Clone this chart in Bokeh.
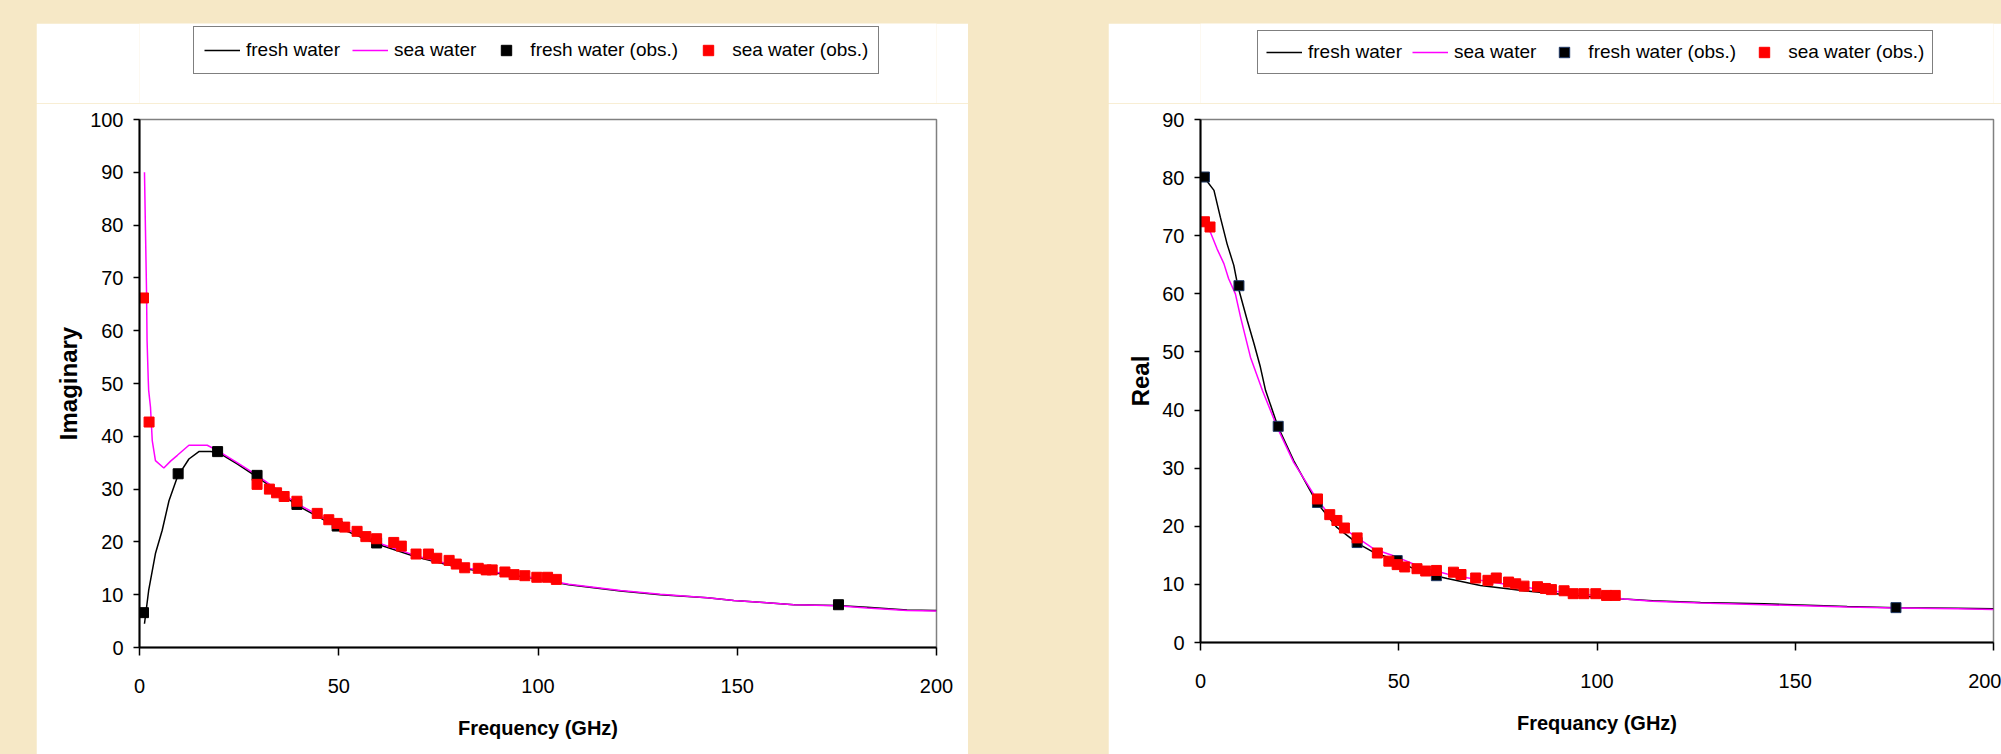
from bokeh.plotting import figure
from bokeh.models import Range1d, FixedTicker, Legend, LegendItem
from bokeh.layouts import row, column
from bokeh.embed import file_html
from bokeh.resources import INLINE

# ---------------- data ----------------
x_ticks = [0, 50, 100, 150, 200]
imag_ticks = [0, 10, 20, 30, 40, 50, 60, 70, 80, 90, 100]
real_ticks = [0, 10, 20, 30, 40, 50, 60, 70, 80, 90]

# Imaginary part, model curves
imag_fresh_freq = [1.25, 2.3, 4.0, 5.7, 7.4, 9.5, 12.4, 14.9, 17.8, 19.6, 24.5, 29.5, 39.6, 49.6,
                   59.6, 69.7, 81.4, 97.3, 107.7, 120.7, 130.7, 142.5, 149.1, 156.6, 164.2, 175.0,
                   182.6, 192.6, 200.0]
imag_fresh_val = [4.5, 10.8, 17.8, 22.2, 27.8, 32.3, 35.7, 37.1, 37.1, 37.0, 34.8, 32.3, 26.9, 22.8,
                  19.6, 17.1, 14.9, 13.3, 11.9, 10.7, 10.0, 9.4, 8.9, 8.5, 8.1, 7.95,
                  7.6, 7.1, 7.0]
imag_sea_freq = [1.25, 1.5, 1.76, 1.9, 2.2, 2.3, 2.76, 3.2, 4.0, 6.1, 7.8, 9.5, 12.4, 17.0, 19.6,
                 24.5, 29.5, 39.6, 49.6, 59.6, 69.7, 81.4, 97.3, 107.7, 120.7, 130.7, 142.5,
                 149.1, 156.6, 164.2, 175.0, 182.6, 192.6, 200.0]
imag_sea_val = [90.0, 79.0, 67.6, 58.1, 50.6, 48.7, 45.5, 39.2, 35.4, 34.0, 35.3, 36.4, 38.3, 38.3, 37.3,
                35.0, 32.6, 27.2, 23.2, 19.9, 17.3, 15.1, 13.4, 12.0, 10.8, 10.1, 9.4,
                8.9, 8.5, 8.1, 7.9, 7.5, 7.0, 6.9]

# Real part, model curves
real_fresh_freq = [0.84, 3.4, 5.0, 6.7, 8.4, 9.4, 11.8, 13.5, 15.1, 16.4, 19.5, 23.5, 29.3, 34.4,
                   39.3, 43.7, 49.6, 55.5, 62.2, 70.6, 79.0, 87.4, 100.1, 106.8, 114.0, 126.1,
                   142.1, 163.1, 175.5, 190.8, 200.0]
real_fresh_val = [80.1, 77.8, 73.2, 68.6, 64.9, 61.4, 55.4, 51.4, 47.4, 43.4, 37.2, 31.3, 24.1, 19.8,
                  17.2, 15.5, 14.1, 12.1, 11.0, 9.8, 9.1, 8.5, 7.8, 7.5, 7.2, 6.9,
                  6.65, 6.2, 6.0, 5.9, 5.8]
real_sea_freq = [0.84, 2.5, 4.2, 5.9, 7.1, 8.8, 10.1, 12.6, 15.6, 19.5, 23.5, 29.4, 34.4, 43.7,
                 49.6, 55.5, 62.2, 70.6, 79.0, 87.4, 100.0, 106.8, 114.0, 126.1, 142.1, 163.1,
                 175.5, 190.8, 200.0]
real_sea_val = [72.4, 70.6, 67.7, 65.2, 62.6, 60.0, 56.0, 49.1, 43.4, 36.8, 31.0, 24.6, 20.4, 16.1,
                14.7, 13.0, 11.8, 10.7, 9.8, 8.95, 8.1, 7.5, 7.1, 6.8, 6.5, 6.1,
                5.95, 5.8, 5.7]

# Observations
fresh_obs_freq = [1.0, 9.7, 19.6, 29.5, 39.5, 49.6, 59.5, 175.4]
fresh_obs_imag = [6.6, 32.9, 37.1, 32.6, 27.1, 23.0, 19.8, 8.1]
fresh_obs_real = [80.1, 61.4, 37.2, 24.1, 17.2, 14.1, 11.5, 6.0]

sea_obs_freq = [1.0, 2.4, 29.5, 32.6, 34.4, 36.3, 39.5, 44.6, 47.5, 49.6, 51.5, 54.6, 56.8, 59.5,
                63.8, 65.7, 69.4, 72.5, 74.6, 77.7, 79.5, 81.6, 85.0, 87.0, 88.5, 91.7, 94.0,
                96.7, 99.7, 102.4, 104.6]
sea_obs_imag = [66.2, 42.7, 30.9, 30.0, 29.3, 28.6, 27.7, 25.4, 24.2, 23.5, 22.8, 22.0, 21.0, 20.6,
                19.9, 19.2, 17.7, 17.7, 16.9, 16.5, 15.8, 15.1, 15.0, 14.7, 14.7, 14.3, 13.8,
                13.6, 13.3, 13.3, 12.9]
sea_obs_real = [72.4, 71.5, 24.7, 22.0, 21.0, 19.7, 18.0, 15.4, 14.0, 13.4, 13.0, 12.7, 12.3, 12.4,
                12.1, 11.7, 11.1, 10.7, 11.1, 10.4, 10.1, 9.7, 9.6, 9.3, 9.1, 8.9, 8.4,
                8.4, 8.4, 8.1, 8.1]

legend_labels = ["fresh water", "sea water", "fresh water (obs.)", "sea water (obs.)"]

# ---------------- styling ----------------
BG = "#F6E8C6"
FONT = "Liberation Sans"
LEG_H = 80          # height of the white legend strip above each chart
TOP = 16            # top border of the chart below the strip
BOTTOM = 140        # bottom border (white panel runs past the window bottom)


def add_series(p, fresh_f, fresh_v, sea_f, sea_v, fo_v, so_v, fresh_obs_line):
    r1 = p.line(fresh_f, fresh_v, line_color="black", line_width=1.5)
    r2 = p.line(sea_f, sea_v, line_color="#FF00FF", line_width=1.5)
    r3 = p.scatter(fresh_obs_freq, fo_v, marker="square", size=10,
                   fill_color="black", line_color=fresh_obs_line, line_width=1)
    r4 = p.scatter(sea_obs_freq, so_v, marker="square", size=10,
                   fill_color="#FF0000", line_color="#FF0000", line_width=1)
    return [r1, r2, r3, r4]


def make_chart(y_max, y_ticks, y_title, x_title, fresh_f, fresh_v, sea_f, sea_v,
               fo_v, so_v, fresh_obs_line, width, bl, br, frame_h, legend_loc,
               leg_pad, leg_space):
    series = (fresh_f, fresh_v, sea_f, sea_v, fo_v, so_v, fresh_obs_line)

    # ---- legend strip: same series, its view (below zero) shows none of them ----
    lg = figure(width=width, height=LEG_H, output_backend="svg", toolbar_location=None,
                x_range=Range1d(0, 200), y_range=Range1d(-2, -1),
                x_axis_location=None, y_axis_location=None,
                min_border_left=bl, min_border_right=br, min_border_top=0, min_border_bottom=0,
                background_fill_color="white", border_fill_color="white")
    lg.grid.visible = False
    lg.outline_line_color = None
    lr = add_series(lg, *series)
    legend = Legend(items=[LegendItem(label=lab, renderers=[r]) for lab, r in zip(legend_labels, lr)],
                    location=legend_loc, orientation="horizontal")
    legend.border_line_color = "black"
    legend.border_line_width = 1.5
    legend.background_fill_color = "white"
    legend.background_fill_alpha = 1
    legend.padding = leg_pad
    legend.spacing = leg_space
    legend.margin = 0
    legend.glyph_width = 36
    legend.glyph_height = 26
    legend.label_height = 26
    legend.label_standoff = 6
    legend.label_text_font = FONT
    legend.label_text_font_size = "19px"
    legend.label_text_color = "black"
    lg.add_layout(legend, "center")

    # ---- the chart ----
    p = figure(width=width, height=TOP + frame_h + BOTTOM, output_backend="svg",
               toolbar_location=None,
               x_range=Range1d(0, 200), y_range=Range1d(0, y_max),
               min_border_left=bl, min_border_right=br, min_border_top=TOP,
               min_border_bottom=BOTTOM,
               background_fill_color="white", border_fill_color="white")
    p.grid.visible = False
    p.outline_line_color = "#808080"
    p.outline_line_width = 1.5

    for ax in (p.xaxis[0], p.yaxis[0]):
        ax.axis_line_color = "black"
        ax.axis_line_width = 2
        ax.major_tick_line_color = "black"
        ax.major_tick_line_width = 1.5
        ax.major_tick_in = 0
        ax.minor_tick_line_color = None
        ax.major_label_text_font = FONT
        ax.major_label_text_font_size = "20px"
        ax.major_label_text_color = "black"
        ax.axis_label_text_font = FONT
        ax.axis_label_text_font_style = "bold"
        ax.axis_label_text_color = "black"

    p.xaxis.ticker = FixedTicker(ticks=x_ticks)
    p.xaxis.major_tick_out = 8
    p.xaxis.major_label_standoff = 23
    p.xaxis.axis_label = x_title
    p.xaxis.axis_label_text_font_size = "20px"
    p.xaxis.axis_label_standoff = 21

    p.yaxis.ticker = FixedTicker(ticks=y_ticks)
    p.yaxis.major_tick_out = 6
    p.yaxis.major_label_standoff = 10
    p.yaxis.axis_label = y_title
    p.yaxis.axis_label_text_font_size = "24px"
    p.yaxis.axis_label_standoff = 5

    add_series(p, *series)
    return column(lg, p, spacing=0)


# legend strip spans page y 23..103; legend box bottom at page y 74 -> 29 px above strip bottom
c1 = make_chart(100, imag_ticks, "Imaginary", "Frequency (GHz)",
                imag_fresh_freq, imag_fresh_val, imag_sea_freq, imag_sea_val,
                fresh_obs_imag, sea_obs_imag, "black", 932, 103, 32, 528, (54, 29), 10, 12)
c1.margin = (23, 0, 0, 36)

c2 = make_chart(90, real_ticks, "Real", "Frequancy (GHz)",
                real_fresh_freq, real_fresh_val, real_sea_freq, real_sea_val,
                fresh_obs_real, sea_obs_real, "#1F3864", 893, 92, 8, 523, (57, 29), 8, 10)
c2.margin = (23, 0, 0, 140)

layout = row(c1, c2, spacing=0, styles={"background-color": BG})

html = file_html(layout, INLINE, title="Permittivity of water")
html = html.replace("<body>", '<body style="margin:0;overflow:hidden;background-color:%s;">' % BG)
open("out.html", "w").write(html)
